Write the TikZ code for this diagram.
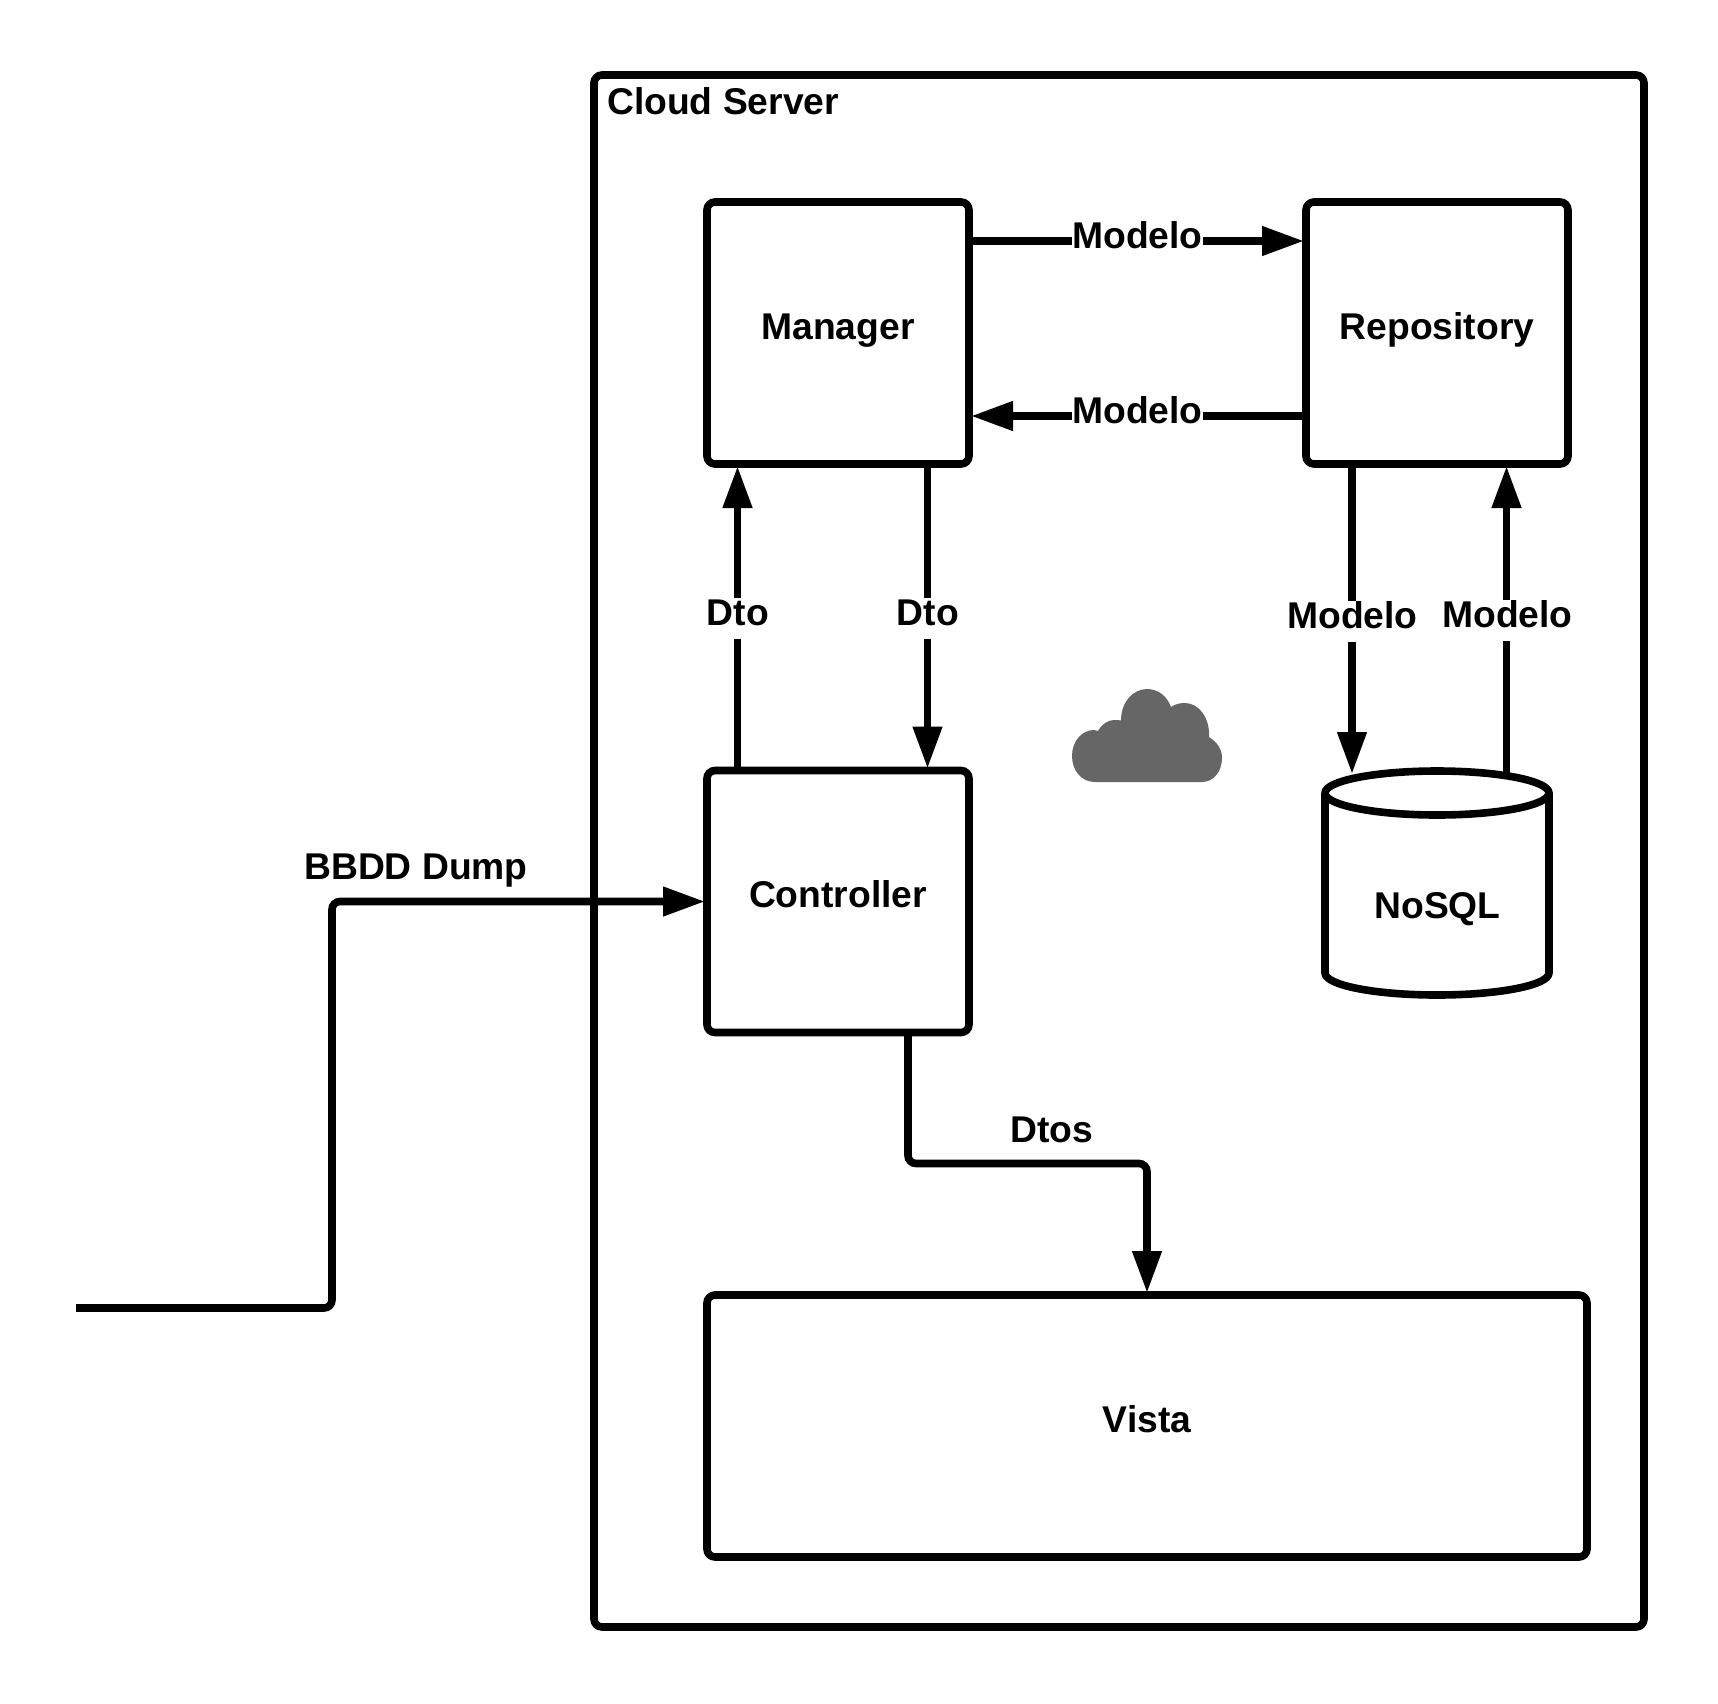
\documentclass[tikz,border=0pt]{standalone}
\usepackage{fontspec}
\setmainfont{Liberation Sans}
\usetikzlibrary{arrows.meta}
\tikzset{
  txt/.style={font=\fontsize{37.25}{42}\selectfont\bfseries,text=black},
  boxnode/.style={draw=black,line width=7.6pt,outer sep=2pt,rounded corners=8pt,fill=white,txt,inner sep=0pt,text height=28pt,text depth=16pt,align=center},
  lab/.style={txt,fill=white,inner sep=0pt,anchor=base,text height=27pt,text depth=14pt},
  plain/.style={txt,inner sep=0pt,anchor=base},
  conn/.style={draw=black,line width=7.6pt,-{Triangle[length=42pt,width=28pt]}},
  cyl/.style={draw=black,line width=7.6pt,fill=white,line join=round},
}
\begin{document}
\begin{tikzpicture}[x=1pt,y=-1pt]
\useasboundingbox (0,0) rectangle (1718,1703);
\fill[white] (0,0) rectangle (1718,1703);
% outer
\node[boxnode,minimum width=1050pt,minimum height=1552pt] (cloudsrv) at (1119,851) {};
\node[plain,anchor=base west] (cloudlabel) at (607,114) {Cloud Server};
% boxes
\node[boxnode,minimum width=262pt,minimum height=262pt] (mgr) at (838,333) {Manager};
\node[boxnode,minimum width=262pt,minimum height=262pt] (repo) at (1437,333) {Repository};
\node[boxnode,minimum width=262pt,minimum height=262pt] (cont) at (838,901.5) {Controller};
\node[boxnode,minimum width=880pt,minimum height=262pt] (vista) at (1147,1426) {Vista};
% NoSQL cylinder
\path[cyl] (1325,793) -- (1325,973)
  .. controls (1325,985.15) and (1375.1,995) .. (1437,995)
  .. controls (1498.9,995) and (1549,985.15) .. (1549,973) -- (1549,793)
  .. controls (1549,780.85) and (1498.9,771) .. (1437,771)
  .. controls (1375.1,771) and (1325,780.85) .. (1325,793) -- cycle;
\path[cyl,fill=none] (1325,793)
  .. controls (1325,805.15) and (1375.1,815) .. (1437,815)
  .. controls (1498.9,815) and (1549,805.15) .. (1549,793);
\node[plain] (nosql) at (1437.5,918) {NoSQL};
% cloud
\fill[fill=black!60] (1095,782) .. controls (1081,782) and (1072,770) .. (1072,756)
 .. controls (1072,741) and (1082,730) .. (1094,730) -- (1098,731)
 .. controls (1102,724) and (1108,720) .. (1114,720)
 .. controls (1117,720) and (1119,720) .. (1121,720.5)
 .. controls (1121,702) and (1133,689) .. (1147,689)
 .. controls (1158,689) and (1167,696) .. (1171,707)
 .. controls (1175,704) and (1180,703) .. (1185,703)
 .. controls (1199,703) and (1210,718) .. (1209,737)
 .. controls (1217,742) and (1222,749) .. (1222,758)
 .. controls (1222,772) and (1213,782) .. (1202,782) -- cycle;
% free coordinates
\coordinate (dump) at (76,1308);
\coordinate (via) at (332,1308);
\coordinate (dbin) at (1352,774);
\coordinate (dbout) at (1506.5,773);
\coordinate (dtosa) at (908,1163.5);
\coordinate (dtosb) at (1147,1163.5);
% connectors
\draw[conn] ([yshift=92pt]mgr.east) -- ([yshift=92pt]repo.west);
\draw[conn] ([yshift=-83pt]repo.west) -- ([yshift=-83pt]mgr.east);
\draw[conn] ([xshift=-100.5pt]cont.north) -- ([xshift=-100.5pt]mgr.south);
\draw[conn] ([xshift=89.5pt]mgr.south) -- ([xshift=89.5pt]cont.north);
\draw[conn] ([xshift=-85pt]repo.south) -- (dbin);
\draw[conn] (dbout) -- ([xshift=69.5pt]repo.south);
\draw[conn,rounded corners=8pt] (dump) -- (via) |- (cont.west);
\draw[conn,rounded corners=8pt] ([xshift=70pt]cont.south) -- (dtosa) -- (dtosb) -- (vista.north);
% labels
\node[lab] (m1) at (1137.5,248) {Modelo};
\node[lab] (m2) at (1137.5,423) {Modelo};
\node[lab] (d1) at (738,625) {Dto};
\node[lab] (d2) at (928,625) {Dto};
\node[lab] (m3) at (1352.5,628) {Modelo};
\node[lab] (m4) at (1507.5,627) {Modelo};
\node[plain] (dtos) at (1052,1142) {Dtos};
\node[plain] (bbdd) at (416,879) {BBDD Dump};
\end{tikzpicture}
\end{document}
